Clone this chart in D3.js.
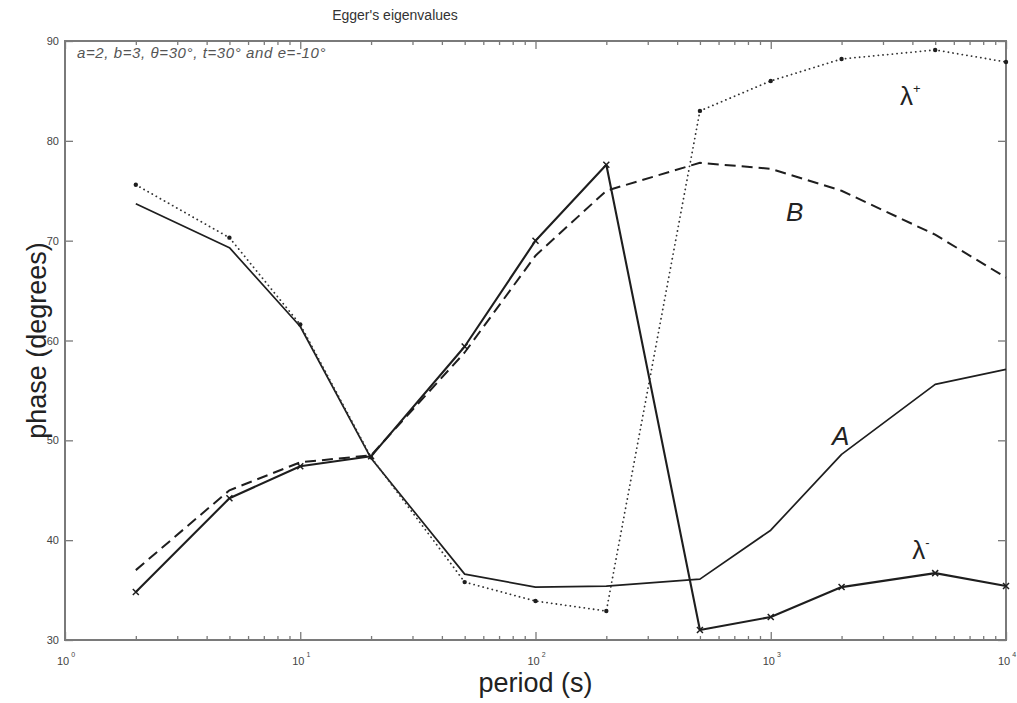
<!DOCTYPE html>
<html>
<head>
<meta charset="utf-8">
<script src="https://cdn.jsdelivr.net/npm/d3@7"></script>
<style>
  body { margin: 0; background: #fff; }
  text { font-family: "Liberation Sans", Arial, sans-serif; }
</style>
</head>
<body>
<div id="chart"></div>
<script>
// data
const periods  = [2, 5, 10, 20, 50, 100, 200, 500, 1000, 2000, 5000, 10000];
const lamPlus  = [75.6, 70.3, 61.6, 48.3, 35.8, 33.9, 32.9, 83.0, 86.0, 88.2, 89.1, 87.9];
const lamMinus = [34.8, 44.2, 47.4, 48.4, 59.4, 70.0, 77.6, 31.0, 32.3, 35.3, 36.7, 35.4];
const seriesA  = [73.7, 69.3, 61.4, 48.2, 36.6, 35.3, 35.4, 36.1, 41.0, 48.6, 55.6, 57.1];
const seriesB  = [37.0, 45.0, 47.8, 48.5, 58.8, 68.5, 75.0, 77.8, 77.2, 75.0, 70.6, 66.3];
const yTicks = [30, 40, 50, 60, 70, 80, 90];
const xDecades = [1, 10, 100, 1000, 10000];

const width = 1017, height = 703;
const margin = {top: 41, right: 11, bottom: 63, left: 65};
const iw = width - margin.left - margin.right,
      ih = height - margin.top - margin.bottom;

const svg = d3.select("#chart")
  .append("svg")
    .attr("width", width)
    .attr("height", height);

const g = svg.append("g")
    .attr("transform", `translate(${margin.left},${margin.top})`);

const x = d3.scaleLog().domain([1, 10000]).range([0, iw]);
const y = d3.scaleLinear().domain([30, 90]).range([ih, 0]);

// minor ticks 2..9 in each decade
const xMinor = [];
xDecades.slice(0, -1).forEach(d => {
  for (let k = 2; k <= 9; k++) xMinor.push(d * k);
});

const axisColor = "#7a7a7a";
const styleAxis = sel => {
  sel.select(".domain").remove();
  sel.selectAll("line").attr("stroke", axisColor).attr("stroke-width", 1.3);
  sel.selectAll("text").remove();
};

// ticks pointing inward on all four sides
g.append("g").attr("transform", `translate(0,${ih})`)
  .call(d3.axisBottom(x).tickValues(xMinor).tickSize(-4)).call(styleAxis);
g.append("g").attr("transform", `translate(0,${ih})`)
  .call(d3.axisBottom(x).tickValues(xDecades).tickSize(-8)).call(styleAxis);
g.append("g")
  .call(d3.axisTop(x).tickValues(xMinor).tickSize(-4)).call(styleAxis);
g.append("g")
  .call(d3.axisTop(x).tickValues(xDecades).tickSize(-8)).call(styleAxis);
g.append("g")
  .call(d3.axisLeft(y).tickValues(yTicks).tickSize(-8)).call(styleAxis);
g.append("g").attr("transform", `translate(${iw},0)`)
  .call(d3.axisRight(y).tickValues(yTicks).tickSize(-8)).call(styleAxis);

// frame
g.append("rect")
  .attr("width", iw).attr("height", ih)
  .attr("fill", "none")
  .attr("stroke", axisColor)
  .attr("stroke-width", 2);

// y tick labels
g.selectAll(".ylab")
  .data(yTicks)
  .join("text")
    .attr("x", -6)
    .attr("y", d => y(d) + 4)
    .attr("text-anchor", "end")
    .style("font-size", "11px")
    .style("fill", "#444")
    .text(d => d);

// x tick labels 10^n
const xl = g.selectAll(".xlab")
  .data(xDecades)
  .join("text")
    .attr("x", d => x(d) - 8)
    .attr("y", ih + 25)
    .style("font-size", "11px")
    .style("fill", "#444");
xl.append("tspan").text("10");
xl.append("tspan")
  .attr("dx", 2).attr("dy", -8)
  .style("font-size", "7px")
  .text(d => Math.round(Math.log10(d)));

// lines
const line = vals => d3.line()
  .x((d, i) => x(periods[i]))
  .y(d => y(d))(vals);

const ink = "#1e1e1e";

g.append("path")
  .attr("d", line(seriesA))
  .attr("fill", "none")
  .attr("stroke", ink)
  .attr("stroke-width", 1.7)
  .attr("stroke-linejoin", "round");

g.append("path")
  .attr("d", line(seriesB))
  .attr("fill", "none")
  .attr("stroke", ink)
  .attr("stroke-width", 2)
  .attr("stroke-dasharray", "11,6");

g.append("path")
  .attr("d", line(lamPlus))
  .attr("fill", "none")
  .attr("stroke", "#333")
  .attr("stroke-width", 1.8)
  .attr("stroke-linecap", "round")
  .attr("stroke-dasharray", "0.1,4.6");

g.append("path")
  .attr("d", line(lamMinus))
  .attr("fill", "none")
  .attr("stroke", ink)
  .attr("stroke-width", 2.1)
  .attr("stroke-linejoin", "round");

// markers
g.selectAll(".dotm")
  .data(lamPlus)
  .join("circle")
    .attr("cx", (d, i) => x(periods[i]))
    .attr("cy", d => y(d))
    .attr("r", 2.2)
    .attr("fill", ink);

g.selectAll(".xm")
  .data(lamMinus)
  .join("path")
    .attr("transform", (d, i) => `translate(${x(periods[i])},${y(d)})`)
    .attr("d", "M-3,-3L3,3M-3,3L3,-3")
    .attr("stroke", ink)
    .attr("stroke-width", 1.5);

// curve labels
const curveLab = (xv, yv, main, sup, italic) => {
  const t = g.append("text")
    .attr("x", x(xv)).attr("y", y(yv))
    .style("font-size", "26px")
    .style("fill", "#222")
    .style("font-style", italic ? "italic" : "normal");
  t.append("tspan").text(main);
  if (sup) t.append("tspan").attr("dy", -12).style("font-size", "13px").text(sup);
};
curveLab(3540, 83.6, "λ", "+", false);
curveLab(1160, 72.0, "B", null, true);
curveLab(1820, 49.5, "A", null, true);
curveLab(3990, 38.1, "λ", "-", false);

// annotation
g.append("text")
  .attr("x", 12).attr("y", 17)
  .style("font-size", "15px")
  .style("font-style", "italic")
  .style("letter-spacing", "0.6px")
  .style("fill", "#555")
  .text("a=2, b=3, θ=30°, t=30° and e=-10°");

// title and axis labels
svg.append("text")
  .attr("x", 395).attr("y", 20)
  .attr("text-anchor", "middle")
  .style("font-size", "14px")
  .style("fill", "#333")
  .text("Egger's eigenvalues");

svg.append("text")
  .attr("x", margin.left + iw / 2).attr("y", 692)
  .attr("text-anchor", "middle")
  .style("font-size", "27px")
  .style("fill", "#222")
  .text("period (s)");

svg.append("text")
  .attr("transform", `translate(46,${margin.top + ih / 2}) rotate(-90)`)
  .attr("text-anchor", "middle")
  .style("font-size", "27px")
  .style("fill", "#222")
  .text("phase (degrees)");
</script>
</body>
</html>
